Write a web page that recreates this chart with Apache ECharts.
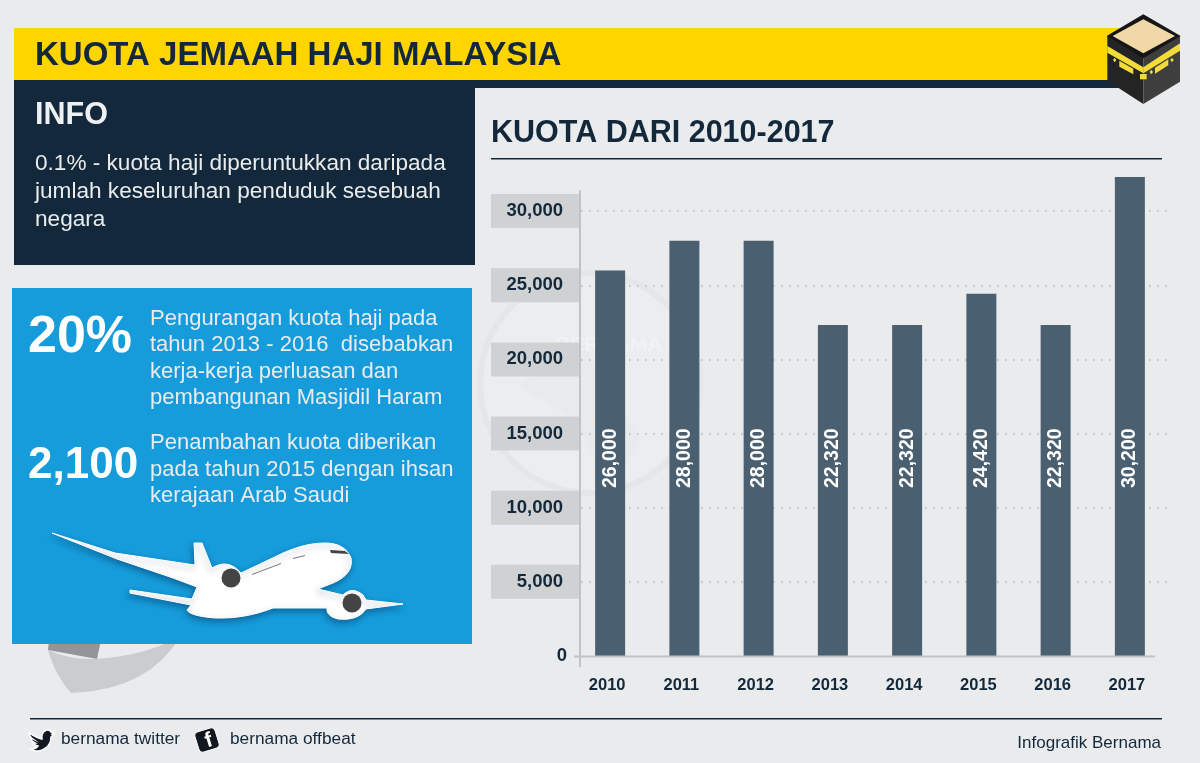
<!DOCTYPE html>
<html>
<head>
<meta charset="utf-8">
<style>html,body{margin:0;padding:0;background:#e9ebed}#container{width:1200px;height:763px}</style>
<script src="https://cdn.jsdelivr.net/npm/echarts@6/dist/echarts.min.js"></script>
</head>
<body>
<div id="container"></div>
<script>
// 2017 bar is drawn taller than its printed label
var years = ['2010','2011','2012','2013','2014','2015','2016','2017'];
var barHeights = [26000,28000,28000,22320,22320,24420,22320,32300];
var barLabels = ['26,000','28,000','28,000','22,320','22,320','24,420','22,320','30,200'];
var infoLines = ['0.1% - kuota haji diperuntukkan daripada','jumlah keseluruhan penduduk sesebuah','negara'];
var cutLines = ['Pengurangan kuota haji pada','tahun 2013 - 2016  disebabkan','kerja-kerja perluasan dan','pembangunan Masjidil Haram'];
var addLines = ['Penambahan kuota diberikan','pada tahun 2015 dengan ihsan','kerajaan Arab Saudi'];

var dark = '#13293b', font = '"Liberation Sans", Arial, sans-serif';
var dom = document.getElementById('container');
var myChart = echarts.init(dom, null, {renderer: 'canvas'});

var option = {
  backgroundColor: '#e9ebed',
  animation: false,
  grid: {left: 573, right: 33, top: 177, bottom: 107},
  xAxis: {
    type: 'category',
    data: years,
    axisLine: {show: false},
    axisTick: {show: false},
    axisLabel: {margin: 21, color: dark, fontFamily: font, fontWeight: 'bold', fontSize: 16.5, padding: [0, 6, 0, 0]}
  },
  yAxis: {
    type: 'value',
    min: 0,
    max: 32300,
    interval: 5000,
    axisLine: {show: false},
    axisTick: {show: false},
    splitLine: {showMaxLine: false, showMinLine: false, lineStyle: {color: '#b4b7b9', type: [1.5, 6.5], width: 1.5}},
    axisLabel: {
      showMaxLabel: false,
      margin: -6,
      formatter: function (v) {
        return v === 0 ? '{zero|0}' : '{band|' + echarts.format.addCommas(v) + '}';
      },
      rich: {
        band: {width: 72, height: 34, lineHeight: 34, align: 'right', padding: [0, 16, 0, 0], backgroundColor: '#cfd1d2', color: dark, fontFamily: font, fontWeight: 'bold', fontSize: 18.5},
        zero: {align: 'right', padding: [0, 12, 0, 0], color: dark, fontFamily: font, fontWeight: 'bold', fontSize: 18.5}
      }
    }
  },
  series: [{
    type: 'bar',
    data: barHeights,
    barWidth: 30,
    z: 3,
    itemStyle: {color: '#4a6071'},
    label: {
      show: true,
      position: 'insideBottom',
      distance: 168,
      rotate: 90,
      align: 'left',
      verticalAlign: 'middle',
      color: '#fff',
      fontFamily: font,
      fontWeight: 'bold',
      fontSize: 19.5,
      formatter: function (p) { return barLabels[p.dataIndex]; }
    }
  }]
};
myChart.setOption(option);

function txt(x, y, s, size, color, weight, align) {
  return {type: 'text', x: x, y: y + 4, z: 5, style: {text: s, fontFamily: font, fontSize: size, fill: color, fontWeight: weight || 'normal', align: align || 'left', verticalAlign: 'middle'}};
}
function box(x, y, w, h, color, z) {
  return {type: 'rect', z: z == null ? 4 : z, shape: {x: x, y: y, width: w, height: h}, style: {fill: color}};
}
function poly(pts, color, z, extra) {
  return {type: 'polygon', z: z || 6, shape: {points: pts}, style: Object.assign({fill: color}, extra || {})};
}
// graphic has no path type, so flatten M/L/Q outlines into polygon points
function outline(d) {
  var pts = [], m, re = /([MLQ])([^MLQZ]*)/g;
  while ((m = re.exec(d))) {
    var n = m[2].trim().split(/\s+/).map(Number);
    if (m[1] === 'Q') {
      var p0 = pts[pts.length - 1];
      for (var t = 0.125; t <= 1; t += 0.125) {
        pts.push([
          (1 - t) * (1 - t) * p0[0] + 2 * t * (1 - t) * n[0] + t * t * n[2],
          (1 - t) * (1 - t) * p0[1] + 2 * t * (1 - t) * n[1] + t * t * n[3]
        ]);
      }
    } else {
      pts.push([n[0], n[1]]);
    }
  }
  return pts;
}

var els = [];
// watermark behind the chart
els.push({type: 'circle', z: -1, shape: {cx: 590, cy: 383, r: 110}, style: {fill: '#ebedef', stroke: '#e4e6e8', lineWidth: 6}});
els.push(poly([[518, 385], [585, 345], [640, 440], [610, 490], [575, 420]], '#e8eaec', -1));
els.push({type: 'text', x: 555, y: 345, z: -1, style: {text: 'BERNAMA', fontFamily: font, fontWeight: 'bold', fontSize: 21, fill: '#f1f2f4', verticalAlign: 'middle'}});

// header
els.push(box(14, 28, 1110, 52, '#ffd500'), box(14, 80, 1110, 8, dark));
els.push(txt(35, 52, 'KUOTA JEMAAH HAJI MALAYSIA', 33, dark, 'bold'));
// info panel
els.push(box(14, 80, 461, 185, dark));
els.push(txt(35, 112, 'INFO', 30.5, '#eef0f1', 'bold'));
infoLines.forEach(function (s, i) { els.push(txt(35, 160 + i * 28, s, 22.6, '#e9ebed')); });
// blue panel, sail shape sits behind it
els.push(poly(outline('M49 640 L101 640 L97 659 L48 650'), '#949597', 3));
els.push(poly(outline('M48 650 Q70 660 97 659 Q150 655 181 635 Q150 690 71 693 Q55 675 48 650'), '#cbccce', 3));
els.push(box(12, 288, 460, 356, '#169cdb'));
els.push(txt(28, 334, '20%', 52, '#fff', 'bold'));
cutLines.forEach(function (s, i) { els.push(txt(150, 315 + i * 26.3, s, 22, '#e9ebed')); });
els.push(txt(28, 462, '2,100', 44, '#fff', 'bold'));
addLines.forEach(function (s, i) { els.push(txt(150, 439 + i * 26.5, s, 22, '#e9ebed')); });

// plane
var plane = 'M52 533 L115 553 L195 565 L194 543 L202 543 L212 568 Q228 558 241 573 L283 553 Q305 543 325 543 Q345 543 351 558 ' +
  'Q354 574 333 583 L318 589 L343 595 Q352 586 363 595 L366 600 L403 604 L366 609 Q358 621 338 619 Q326 616 327 608 L273 608 ' +
  'Q245 619 215 618 Q190 616 187 610 L191 605 L130 593 L130 590 L192 599 L197 587 L173 578 L117 559';
els.push(poly(outline(plane), '#fff', 6, {stroke: '#fff', lineWidth: 1, shadowBlur: 6, shadowColor: 'rgba(0,40,80,0.45)', shadowOffsetX: -1, shadowOffsetY: 3}));
els.push({type: 'circle', z: 7, shape: {cx: 231, cy: 578, r: 9.5}, style: {fill: '#444'}});
els.push({type: 'circle', z: 7, shape: {cx: 352, cy: 603, r: 9.5}, style: {fill: '#444'}});
els.push(poly([[330, 550], [345, 551], [349, 554], [331, 553]], '#444', 7));
els.push(poly([[252, 574], [281, 563], [281, 564], [252, 575]], '#777', 7));
els.push(poly([[293, 558], [305, 555], [305, 556], [293, 559]], '#777', 7));

// section title
els.push(txt(491, 130, 'KUOTA DARI 2010-2017', 30.5, dark, 'bold'));
els.push(box(491, 158, 671, 1.5, dark));

// axis strokes run a little past the plot, so take them from the scale
var y0 = myChart.convertToPixel({yAxisIndex: 0}, 0);
var yTop = myChart.convertToPixel({yAxisIndex: 0}, 31400);
els.push({type: 'line', z: 4, shape: {x1: 580, y1: yTop, x2: 580, y2: y0 + 11}, style: {stroke: '#c0c2c4', lineWidth: 2}});
els.push({type: 'line', z: 4, shape: {x1: 574, y1: y0 + 0.5, x2: 1155, y2: y0 + 0.5}, style: {stroke: '#c0c2c4', lineWidth: 2}});

// kaaba, points taken in a 3x crop of the icon
var k = function (pts) { return pts.map(function (p) { return [1100 + p[0] / 3, 10 + p[1] / 3]; }); };
var gold = '#f3dc3a';
els.push(poly(k([[22,78],[130,140],[130,282],[22,212]]), '#242424'));
els.push(poly(k([[130,140],[240,78],[240,215],[130,282]]), '#3e3e3e'));
els.push(poly(k([[130,13],[242,78],[130,145],[20,78]]), '#161616'));
els.push(poly(k([[130,28],[225,78],[130,130],[38,78]]), '#f1d9a7'));
els.push(poly(k([[22,108],[130,172],[130,190],[22,128]]), gold));
els.push(poly(k([[130,172],[240,100],[240,122],[130,190]]), gold));
els.push(poly(k([[58,152],[100,176],[100,193],[58,170]]), gold));
els.push(poly(k([[165,173],[205,148],[205,166],[165,191]]), gold));
els.push(poly(k([[120,192],[140,192],[140,208],[120,208]]), gold));
els.push(poly(k([[44,143],[49,150],[44,157],[39,150]]), gold));
els.push(poly(k([[154,179],[159,186],[154,193],[149,186]]), gold));
els.push(poly(k([[216,143],[221,150],[216,157],[211,150]]), gold));

// footer
els.push(box(30, 718, 1132, 1.5, dark));
els.push(poly(outline('M29 733 Q39 739 42 739 Q41 732 47 730 Q50 730 51 732 L54 731 L52 734 L54 734 L51 737 Q51 745 44 749 Q37 753 31 749 Q36 749 38 746 Q33 744 33 743 L35 743 Q31 741 31 738 L33 739 Q29 736 29 733'), '#11181f', 6, {stroke: '#fff', lineWidth: 1.5}));
els.push(txt(61, 735, 'bernama twitter', 17.3, dark));
els.push({type: 'rect', z: 6, x: 207, y: 740, rotation: 0.3, shape: {x: -10.5, y: -10.5, width: 21, height: 21, r: 4}, style: {fill: '#11181f', stroke: '#fff', lineWidth: 1}});
els.push({type: 'text', z: 7, x: 209, y: 741, rotation: 0.3, style: {text: 'f', fontFamily: font, fontWeight: 'bold', fontSize: 21, fill: '#fff', align: 'center', verticalAlign: 'middle'}});
els.push(txt(230, 735, 'bernama offbeat', 17.3, dark));
els.push(txt(1161, 739, 'Infografik Bernama', 17, dark, 'normal', 'right'));

myChart.setOption({graphic: {elements: els}});

window.addEventListener('resize', myChart.resize);
</script>
</body>
</html>
